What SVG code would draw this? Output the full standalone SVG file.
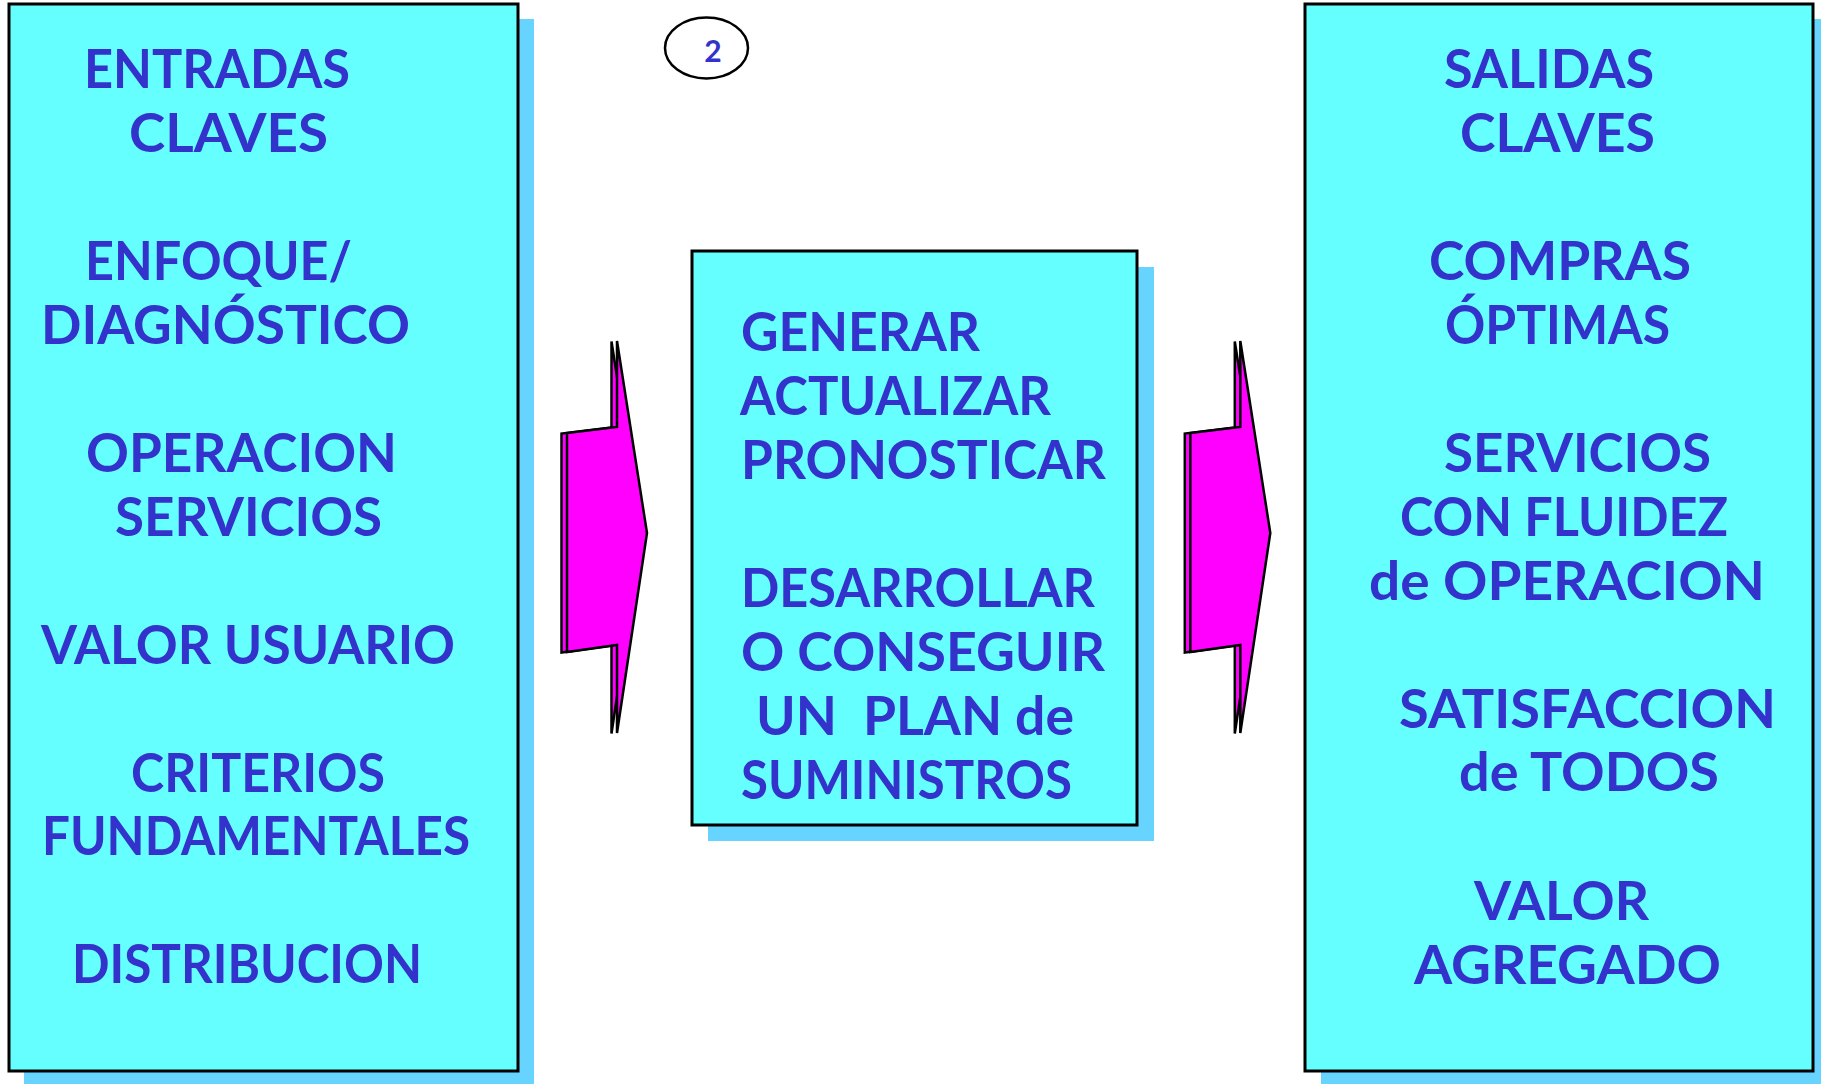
<svg xmlns="http://www.w3.org/2000/svg" width="1821" height="1084" viewBox="0 0 1821 1084">
<style>
.shadow{fill:#66D4FF;stroke:none}
.box{fill:#66FFFF;stroke:#000;stroke-width:3}
.t{font-family:Lato,"Liberation Sans",sans-serif;font-weight:700;font-size:53px;fill:#3333CC;white-space:pre}
.arr{fill:#FF00FF;stroke:#000;stroke-width:2.5;stroke-linejoin:miter}
</style>
<defs>
<polygon id="arrowShape" points="617,341 647,533 617,733 617,645 567,652 567,433 617,427"/>
</defs>
<rect width="1821" height="1084" fill="#fff"/>

<g id="entradas">
<rect class="shadow" x="24" y="19" width="510" height="1067"/>
<rect class="box" x="9" y="4" width="509" height="1067"/>
<text class="t" x="84" y="88" textLength="266" lengthAdjust="spacingAndGlyphs">ENTRADAS</text>
<text class="t" x="129" y="152" textLength="199" lengthAdjust="spacingAndGlyphs">CLAVES</text>
<text class="t" x="85" y="280" textLength="267" lengthAdjust="spacingAndGlyphs">ENFOQUE/</text>
<text class="t" x="41" y="344" textLength="369" lengthAdjust="spacingAndGlyphs">DIAGNÓSTICO</text>
<text class="t" x="86" y="472" textLength="311" lengthAdjust="spacingAndGlyphs">OPERACION</text>
<text class="t" x="115" y="536" textLength="267" lengthAdjust="spacingAndGlyphs">SERVICIOS</text>
<text class="t" x="41" y="664" textLength="414" lengthAdjust="spacingAndGlyphs">VALOR USUARIO</text>
<text class="t" x="131" y="792" textLength="254" lengthAdjust="spacingAndGlyphs">CRITERIOS</text>
<text class="t" x="42" y="855" textLength="428" lengthAdjust="spacingAndGlyphs">FUNDAMENTALES</text>
<text class="t" x="72" y="983" textLength="350" lengthAdjust="spacingAndGlyphs">DISTRIBUCION</text>
</g>

<g id="proceso">
<rect class="shadow" x="708" y="267" width="446" height="574"/>
<rect class="box" x="692" y="251" width="445" height="574"/>
<text class="t" x="741" y="351" textLength="239" lengthAdjust="spacingAndGlyphs">GENERAR</text>
<text class="t" x="740" y="415" textLength="311" lengthAdjust="spacingAndGlyphs">ACTUALIZAR</text>
<text class="t" x="741" y="479" textLength="365" lengthAdjust="spacingAndGlyphs">PRONOSTICAR</text>
<text class="t" x="741" y="607" textLength="354" lengthAdjust="spacingAndGlyphs">DESARROLLAR</text>
<text class="t" x="741" y="671" textLength="364" lengthAdjust="spacingAndGlyphs">O CONSEGUIR</text>
<text class="t" x="756" y="735" textLength="318" lengthAdjust="spacingAndGlyphs">UN  PLAN de</text>
<text class="t" x="741" y="799" textLength="331" lengthAdjust="spacingAndGlyphs">SUMINISTROS</text>
</g>

<g id="salidas">
<rect class="shadow" x="1321" y="19" width="510" height="1067"/>
<rect class="box" x="1305" y="4" width="508" height="1067"/>
<text class="t" x="1444" y="88" textLength="210" lengthAdjust="spacingAndGlyphs">SALIDAS</text>
<text class="t" x="1460" y="152" textLength="195" lengthAdjust="spacingAndGlyphs">CLAVES</text>
<text class="t" x="1429" y="280" textLength="262" lengthAdjust="spacingAndGlyphs">COMPRAS</text>
<text class="t" x="1445" y="344" textLength="225" lengthAdjust="spacingAndGlyphs">ÓPTIMAS</text>
<text class="t" x="1444" y="472" textLength="267" lengthAdjust="spacingAndGlyphs">SERVICIOS</text>
<text class="t" x="1400" y="536" textLength="328" lengthAdjust="spacingAndGlyphs">CON FLUIDEZ</text>
<text class="t" x="1369" y="600" textLength="396" lengthAdjust="spacingAndGlyphs">de OPERACION</text>
<text class="t" x="1399" y="728" textLength="377" lengthAdjust="spacingAndGlyphs">SATISFACCION</text>
<text class="t" x="1459" y="791" textLength="260" lengthAdjust="spacingAndGlyphs">de TODOS</text>
<text class="t" x="1474" y="920" textLength="175" lengthAdjust="spacingAndGlyphs">VALOR</text>
<text class="t" x="1414" y="984" textLength="307" lengthAdjust="spacingAndGlyphs">AGREGADO</text>
</g>

<g id="num">
<ellipse cx="706.5" cy="48" rx="41.5" ry="30.5" fill="#fff" stroke="#000" stroke-width="2.5"/>
<text x="713" y="62" text-anchor="middle" style="font-family:Lato,'Liberation Sans',sans-serif;font-weight:700;font-size:30px;fill:#3333CC">2</text>
</g>

<g id="connectors">
<g id="arrow1">
<use href="#arrowShape" class="arr" transform="translate(-5.5,0.5)"/>
<use href="#arrowShape" class="arr"/>
</g>
<g id="arrow2" transform="translate(623.3,0)">
<use href="#arrowShape" class="arr" transform="translate(-5.5,0.5)"/>
<use href="#arrowShape" class="arr"/>
</g>
</g>
</svg>
